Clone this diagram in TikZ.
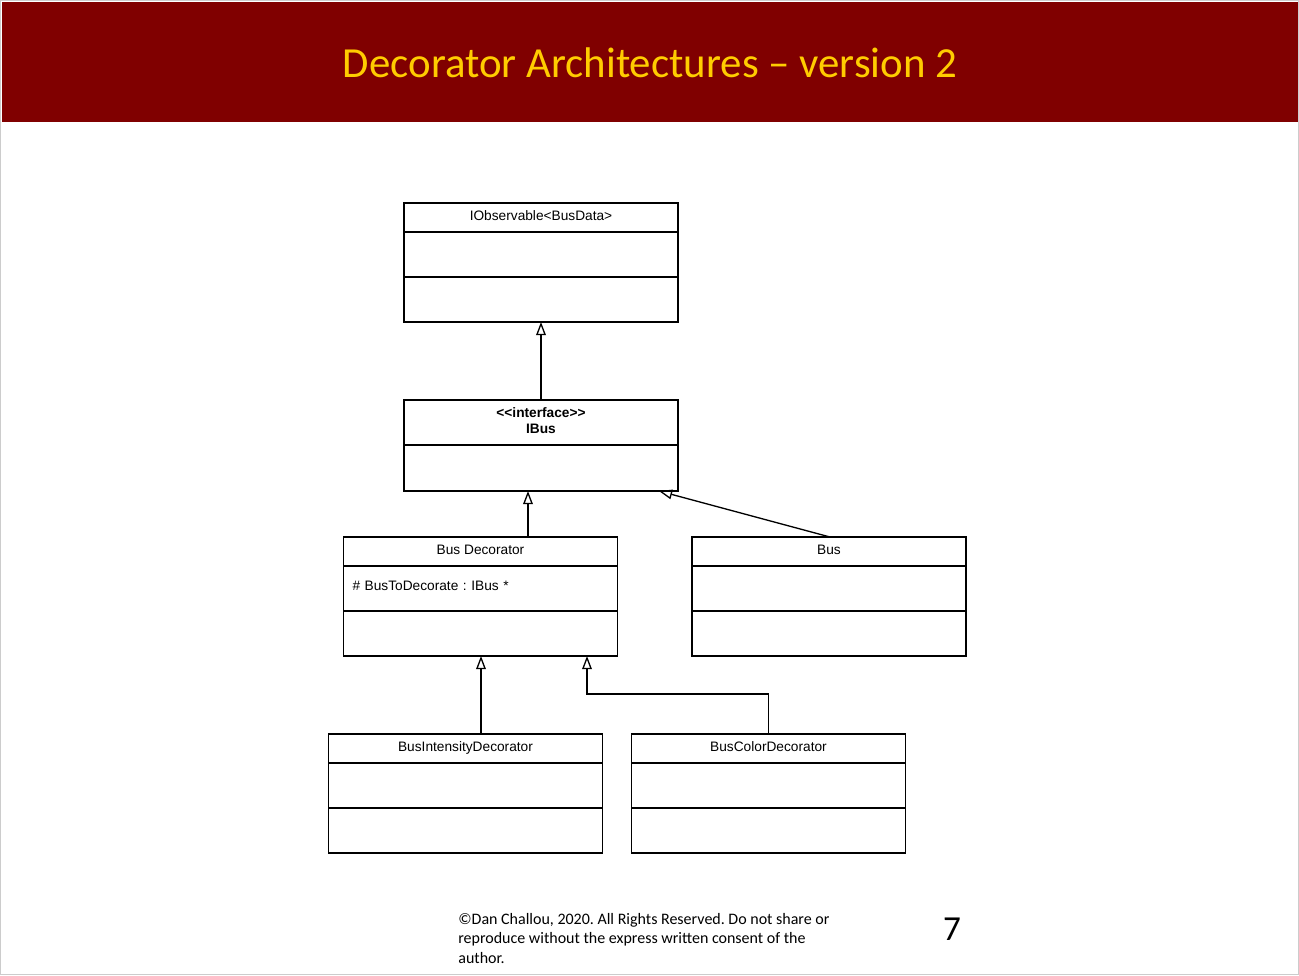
\documentclass[tikz,border=0pt]{standalone}
\usepackage{fontspec}
\setmainfont{Liberation Sans}
\newfontfamily\slidefont{Carlito}
\usepackage{tikz}
\usetikzlibrary{arrows.meta,positioning}
\definecolor{slidered}{RGB}{128,0,0}
\definecolor{slidegold}{RGB}{255,204,0}
\tikzstyle{inherit} = [-{Triangle[open,length=7.5pt,width=5.5pt]}, line width=0.75pt]
\tikzstyle{slidetext} = [inner sep=0pt, font=\slidefont]
\frenchspacing

\begin{document}
\begin{tikzpicture}[x=0.02cm, y=-0.02cm,
  classbox/.style = {draw, line width=0.8pt, minimum width=5.48cm,
    inner sep=0pt, outer sep=0pt, align=center,
    font=\fontsize{7.8}{9}\selectfont},
  classhead/.style = {classbox, minimum height=0.58cm, text depth=0.35ex},
  classpart/.style = {classbox, minimum height=0.9cm}]
  \useasboundingbox (0,0) rectangle (1299,975);
  \draw[gray!40] (0.5,0.5) rectangle (1298.5,974.5);
  \fill[slidered] (2,2) rectangle (1298,122);
  \node[slidetext, text=slidegold, font=\slidefont\fontsize{24.4}{28}\selectfont] (title) at (650,63) {Decorator Architectures \textendash{} version 2};

  \node[classhead] (obs) at (541,217.5) {IObservable\textless BusData\textgreater};
  \node[classpart, below=0pt of obs] (obs1) {};
  \node[classpart, below=0pt of obs1] (obs2) {};

  \node[classpart, text depth=0.5ex, font=\fontsize{7.8}{9}\selectfont\bfseries] (ibus) at (541,422.5) {\mbox{<}\mbox{<}interface\mbox{>}\mbox{>}\\IBus};
  \node[classpart, minimum height=0.92cm, below=0pt of ibus] (ibus1) {};

  \node[classhead] (dec) at (480.5,551.5) {Bus Decorator};
  \node[classpart, align=left, text width=5.12cm, text depth=0.6ex, below=0pt of dec] (dec1) {\# BusToDecorate : IBus *};
  \node[classpart, below=0pt of dec1] (dec2) {};

  \node[classhead] (bus) at (829,551.5) {Bus};
  \node[classpart, below=0pt of bus] (bus1) {};
  \node[classpart, below=0pt of bus1] (bus2) {};

  \node[classhead] (inten) at (465.5,748.5) {BusIntensityDecorator};
  \node[classpart, below=0pt of inten] (inten1) {};
  \node[classpart, below=0pt of inten1] (inten2) {};

  \node[classhead] (color) at (768.5,748.5) {BusColorDecorator};
  \node[classpart, below=0pt of color] (color1) {};
  \node[classpart, below=0pt of color1] (color2) {};

  \draw[inherit] (ibus.north) -- (obs2.south);
  \draw[inherit] ([xshift=0.95cm]dec.north) -- ([xshift=0.95cm]dec.north |- ibus1.south);
  \draw[inherit] ([xshift=0.02cm]bus.north) -- ([xshift=-0.38cm]ibus1.south east);
  \draw[inherit] ([xshift=0.31cm]inten.north) -- ([xshift=0.31cm]inten.north |- dec2.south);
  \coordinate (bend) at (587,694);
  \draw[inherit] (color.north) |- (bend) -- (bend |- dec2.south);

  \node[slidetext, anchor=north west, align=left, font=\slidefont\fontsize{9.1}{11}\selectfont] (rights) at (458,913) {©Dan Challou, 2020. All Rights Reserved. Do not share or\\reproduce without the express written consent of the\\author.};
  \node[slidetext, font=\slidefont\fontsize{20}{24}\selectfont] (page) at (952,929) {7};
\end{tikzpicture}
\end{document}
